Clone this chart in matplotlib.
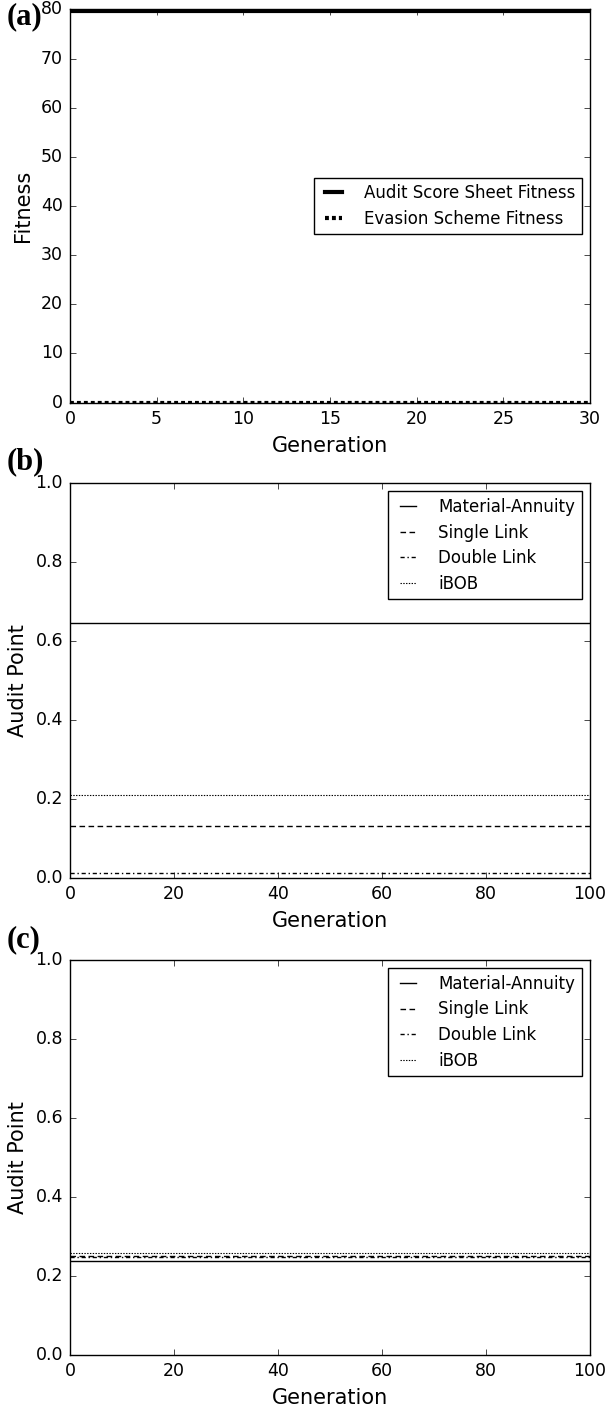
import numpy as np
import matplotlib
matplotlib.use("Agg")
import matplotlib.pyplot as plt

plt.style.use('classic')
plt.rcParams['figure.facecolor'] = 'white'
plt.rcParams['savefig.facecolor'] = 'white'
plt.rcParams['font.family'] = ['DejaVu Sans']

# ---- data ----
gen_a = list(range(0, 31))
audit_fitness = 79.6
evasion_fitness = 0.0

gen_bc = list(range(0, 101))
series_names = ["Material-Annuity", "Single Link", "Double Link", "iBOB"]
values_b = [0.645, 0.132, 0.012, 0.210]
values_c = [0.238, 0.250, 0.247, 0.258]

xticks_a = [0, 5, 10, 15, 20, 25, 30]
yticks_a = [0, 10, 20, 30, 40, 50, 60, 70, 80]
xticks_bc = [0, 20, 40, 60, 80, 100]
yticks_bc = [0.0, 0.2, 0.4, 0.6, 0.8, 1.0]

W, H = 606, 1412
fig = plt.figure(figsize=(W / 100, H / 100), dpi=100)

def ax_at(top_px, bot_px, left_px=70, right_px=590):
    return fig.add_axes([left_px / W, 1 - bot_px / H, (right_px - left_px) / W, (bot_px - top_px) / H])

tick_fs = 12.5
label_fs = 15
leg_fs = 12
leg_kw = dict(frameon=True, fancybox=False, handlelength=1.6, handletextpad=1.0,
              borderaxespad=0.5, labelspacing=0.45)

# ---- panel (a) ----
ax = ax_at(9, 403)
ax.plot(gen_a, [audit_fitness] * len(gen_a), color='black', lw=3, ls='-', label='Audit Score Sheet Fitness')
ax.plot(gen_a, [evasion_fitness] * len(gen_a), color='black', lw=3, ls=':', dashes=(2.8, 2.2), label='Evasion Scheme Fitness')
ax.set_xlim(0, 30)
ax.set_ylim(-0.1, 80.1)
ax.set_xticks(xticks_a)
ax.set_yticks(yticks_a)
ax.tick_params(labelsize=tick_fs, pad=5)
ax.set_xlabel('Generation', fontsize=label_fs, labelpad=6)
ax.set_ylabel('Fitness', fontsize=label_fs, labelpad=6)
ax.legend(loc='center right', fontsize=leg_fs, **leg_kw)

styles = [dict(ls='-'), dict(ls='--', dashes=(4, 2.5)), dict(ls='-.', dashes=(3, 2, 1, 2)), dict(ls=':', dashes=(1, 1))]
widths = [1.0, 1.0, 1.0, 0.8]

def panel_bc(top, bot, vals):
    ax = ax_at(top, bot)
    for name, v, st, w in zip(series_names, vals, styles, widths):
        ax.plot(gen_bc, [v] * len(gen_bc), color='black', lw=w, label=name, **st)
    ax.set_xlim(0, 100)
    ax.set_ylim(0, 1.0)
    ax.set_xticks(xticks_bc)
    ax.set_yticks(yticks_bc)
    ax.set_yticklabels([f"{t:.1f}" for t in yticks_bc])
    ax.tick_params(labelsize=tick_fs, pad=5)
    ax.set_xlabel('Generation', fontsize=label_fs, labelpad=6)
    ax.set_ylabel('Audit Point', fontsize=label_fs, labelpad=5)
    ax.legend(loc='upper right', fontsize=leg_fs, **leg_kw)
    return ax

panel_bc(483, 878, values_b)
panel_bc(960, 1355, values_c)

for lbl, ypx in [('(a)', 17), ('(b)', 462), ('(c)', 940)]:
    fig.text(7 / W, 1 - ypx / H, lbl, family='Liberation Serif', weight='bold', fontsize=22, va='center', ha='left')

fig.savefig('out.png', dpi=100)
